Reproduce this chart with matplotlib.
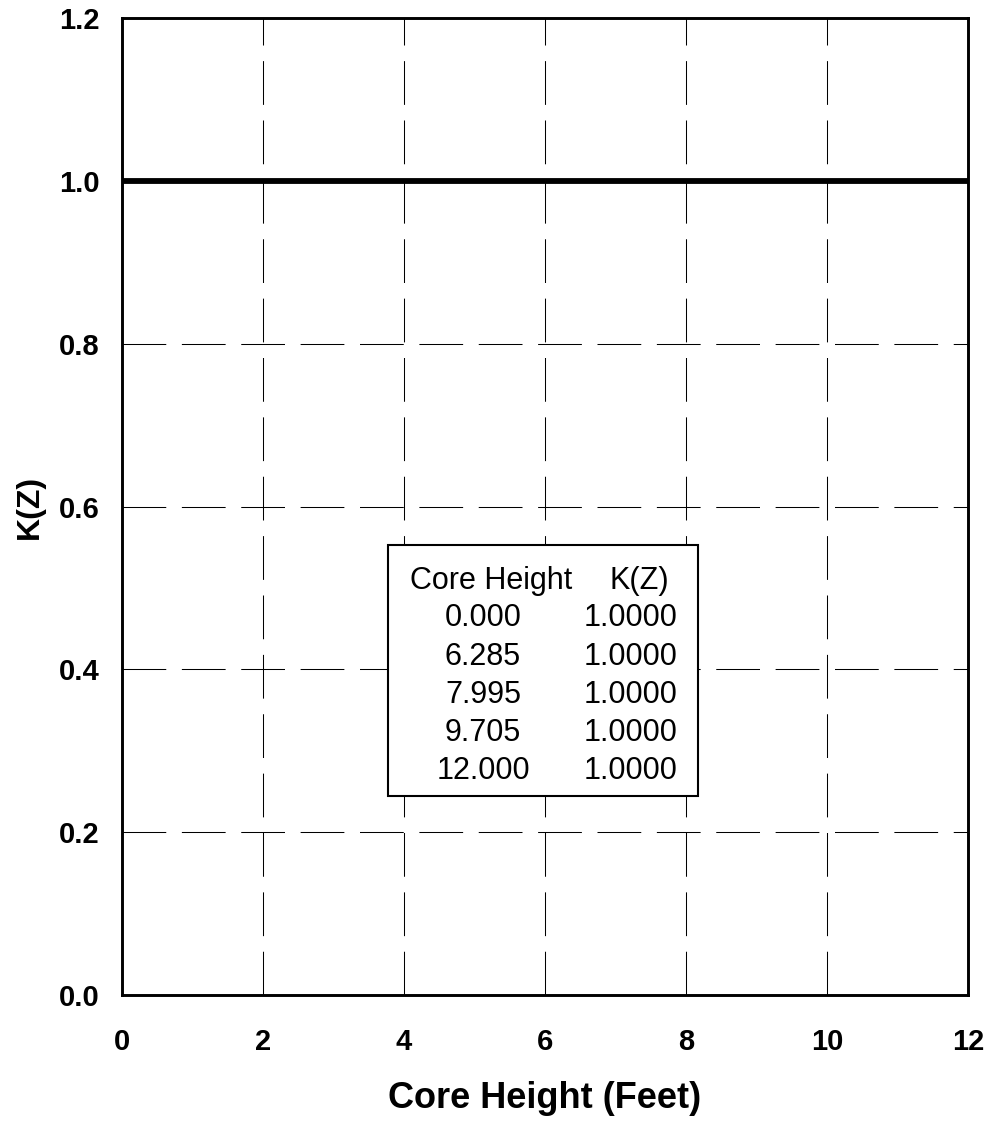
import matplotlib.pyplot as plt
from matplotlib.patches import Rectangle

core_height = [0.000, 6.285, 7.995, 9.705, 12.000]
k_z = [1.0000, 1.0000, 1.0000, 1.0000, 1.0000]

x_ticks = [0, 2, 4, 6, 8, 10, 12]
y_ticks = [0.0, 0.2, 0.4, 0.6, 0.8, 1.0, 1.2]

plt.rcParams['font.family'] = ['Liberation Sans', 'DejaVu Sans']

fig = plt.figure(figsize=(9.89, 11.21), dpi=100)
ax = fig.add_axes([0.1234, 0.1124, 0.8554, 0.8715])

ax.plot(core_height, k_z, color='black', linewidth=4.2, solid_capstyle='butt', zorder=3)

ax.set_xlim(0, 12)
ax.set_ylim(0, 1.2)
ax.set_xticks(x_ticks)
ax.set_yticks(y_ticks)
ax.set_xticklabels([str(t) for t in x_ticks], fontsize=21, fontweight='bold')
ax.set_yticklabels([f'{t:.1f}' for t in y_ticks], fontsize=21, fontweight='bold')
ax.tick_params(length=0)
ax.tick_params(axis='x', pad=24)
ax.tick_params(axis='y', pad=16)

ax.grid(True, color='black', linewidth=0.75, linestyle=(0, (42, 15)))
for s in ax.spines.values():
    s.set_linewidth(2.1)

ax.set_xlabel('Core Height (Feet)', fontsize=26, fontweight='bold', labelpad=18)
ax.set_ylabel('K(Z)', fontsize=23, fontweight='bold', labelpad=10)

# table box inside the plot
W, H = 989, 1121
box = Rectangle((388 / W, 1 - 796 / H), (698 - 388) / W, (796 - 545) / H,
                transform=fig.transFigure, facecolor='white', edgecolor='black',
                linewidth=1.5, zorder=5)
fig.patches.append(box)

fs = 22
fig.text(491 / W, 1 - 577 / H, 'Core Height', fontsize=fs, ha='center', va='center_baseline', zorder=6)
fig.text(639 / W, 1 - 577 / H, 'K(Z)', fontsize=fs, ha='center', va='center_baseline', zorder=6)
for i, (h, k) in enumerate(zip(core_height, k_z)):
    y = 1 - (615 + i * 38.2) / H
    fig.text(483 / W, y, f'{h:.3f}', fontsize=fs, ha='center', va='center_baseline', zorder=6)
    fig.text(678 / W, y, f'{k:.4f}', fontsize=fs, ha='right', va='center_baseline', zorder=6)

fig.savefig('out.png', dpi=100)
